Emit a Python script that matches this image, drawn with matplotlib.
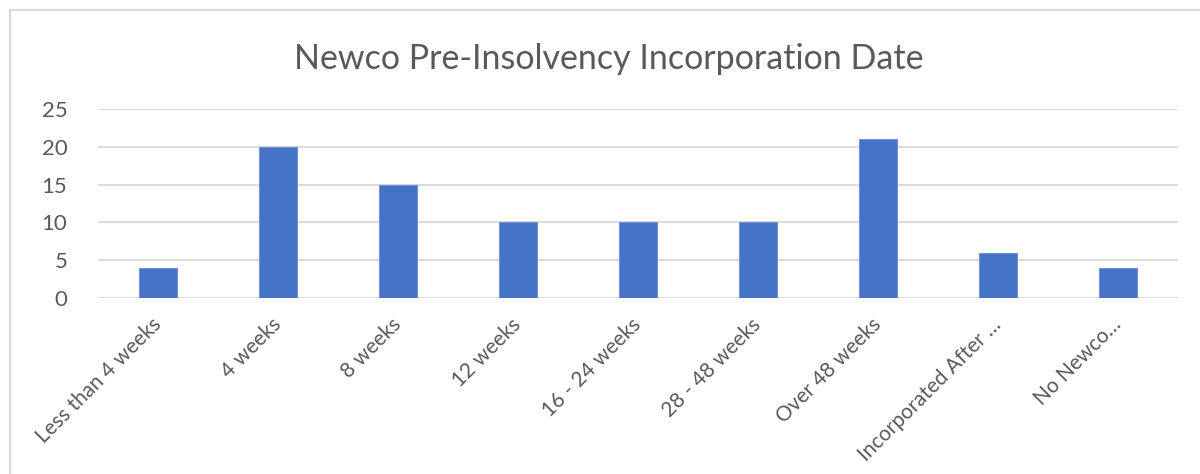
import matplotlib.pyplot as plt
from matplotlib.patches import Rectangle

categories = ["Less than 4 weeks", "4 weeks", "8 weeks", "12 weeks", "16 - 24 weeks",
              "28 - 48 weeks", "Over 48 weeks", "Incorporated After …", "No Newco…"]
counts = [4, 20, 15, 10, 10, 10, 21, 6, 4]
y_ticks = [0, 5, 10, 15, 20, 25]

plt.rcParams['font.family'] = ['Lato', 'DejaVu Sans']
text_color = "#595959"

fig = plt.figure(figsize=(12, 4.74), dpi=100)
ax = fig.add_axes([98 / 1200, 1 - 298 / 474, 1080 / 1200, 189 / 474])

x = range(len(categories))
ax.bar(x, counts, width=0.31, color="#4472C4", edgecolor="#6f93d6", linewidth=0.8, zorder=3)

ax.set_xlim(-0.5, len(categories) - 0.5)
ax.set_ylim(0, 25)
ax.set_yticks(y_ticks)
ax.yaxis.grid(True, color="#d9d9d9", linewidth=1.3, zorder=0)
for s in ax.spines.values():
    s.set_visible(False)
ax.tick_params(axis="y", length=0, labelsize=16, colors=text_color, pad=22)
ax.set_xticks(list(x))
ax.set_xticklabels(categories, rotation=45, ha="right", rotation_mode="anchor", va="center")
ax.tick_params(axis="x", length=0, labelsize=15, colors=text_color, pad=17)

fig.suptitle("Newco Pre-Insolvency Incorporation Date", x=0.507, y=0.91,
             fontsize=24.5, color=text_color)

# outer chart frame
fig.patches.append(Rectangle((10 / 1200, -0.1), 1.2, 1 - 10 / 474 + 0.1,
                             transform=fig.transFigure, fill=False,
                             edgecolor="#d9d9d9", linewidth=1.5))

fig.savefig("out.png", dpi=100)
